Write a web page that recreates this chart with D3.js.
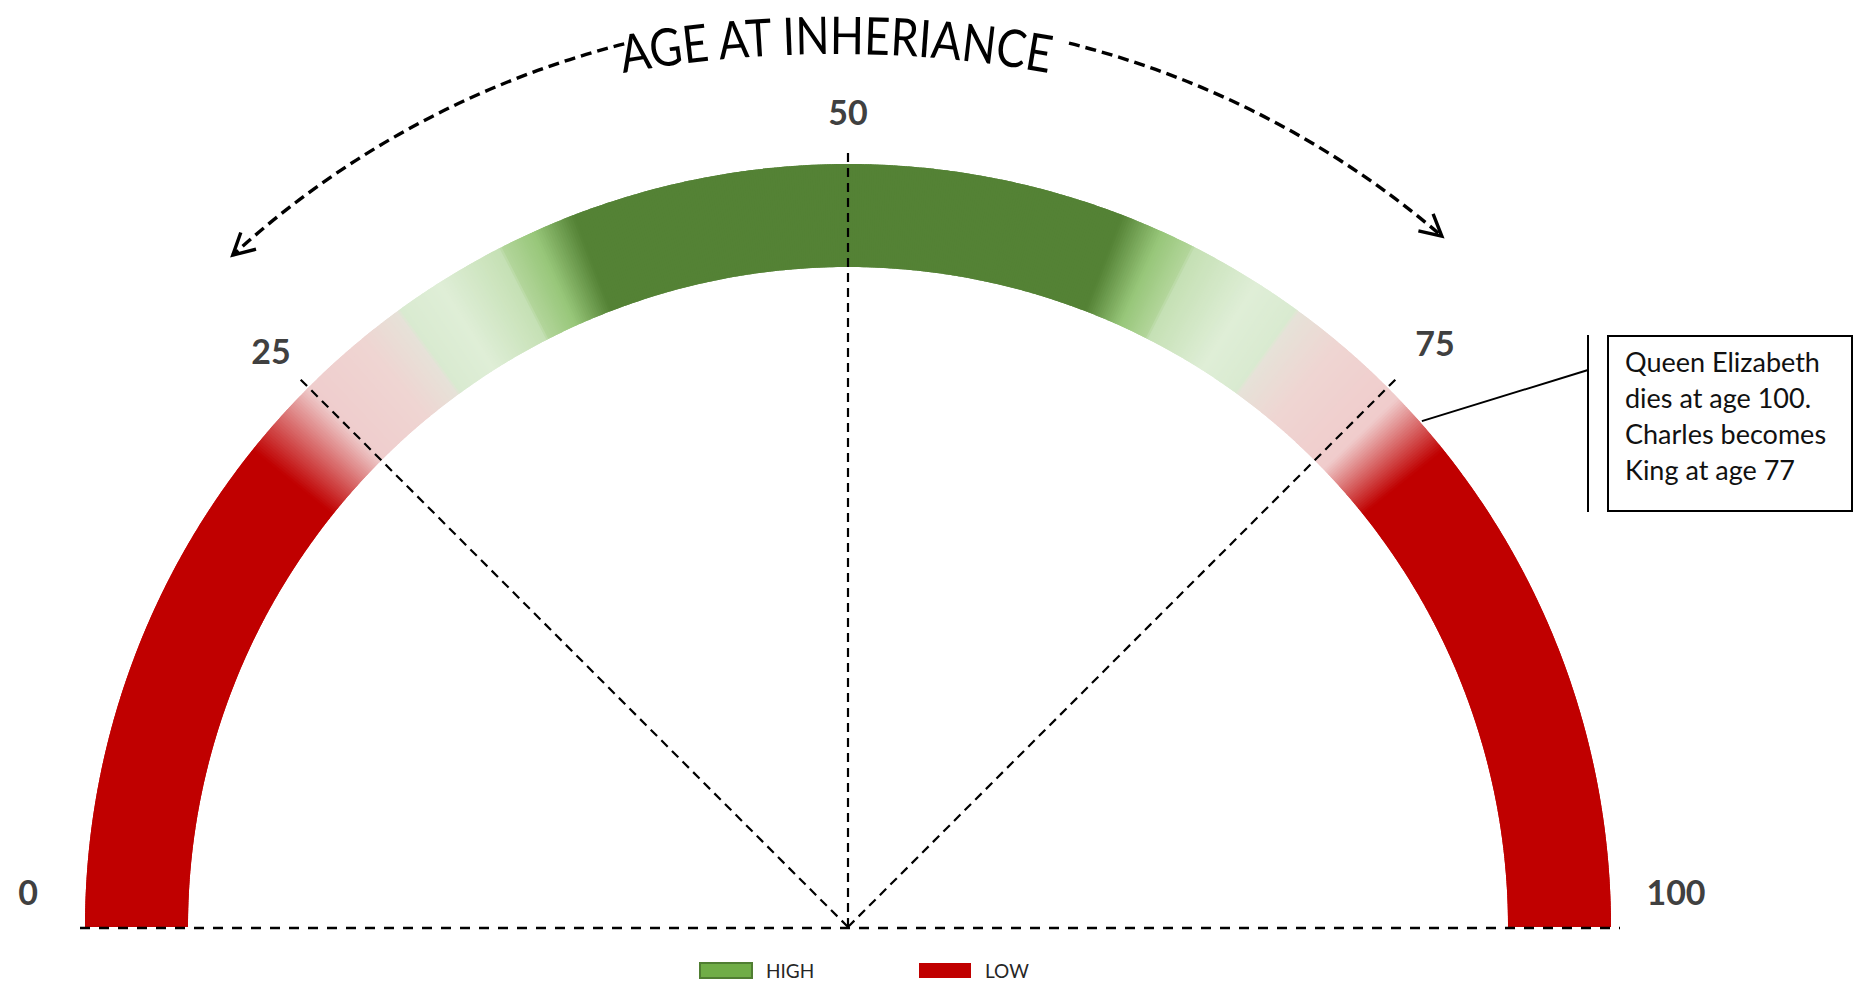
<!DOCTYPE html>
<html>
<head>
<meta charset="utf-8">
<script src="https://cdn.jsdelivr.net/npm/d3@7"></script>
<style>
  html, body { margin: 0; padding: 0; background: #ffffff; overflow: hidden; }
  svg { display: block; }
</style>
</head>
<body>
<svg id="chart" width="1855" height="984"></svg>
<script>
// ---- data ---------------------------------------------------------------
const titleText = "AGE AT INHERIANCE";
const ageTicks = [0, 25, 50, 75, 100];
const guideAges = [25, 50, 75];

// colour stops along the age scale (age -> band colour)
const bandAges = [0, 21.5, 25, 28, 29.9, 30, 32, 34.9, 35, 36.5, 38.3,
                  61.7, 63.5, 64.9, 65, 68, 70, 70.1, 72.3, 75.6, 78.5, 100];
const bandColours = ["#c00000", "#c00000", "#efcdcd", "#efd5d2", "#e6e2d8", "#d9ead0",
                     "#dfeed7", "#c5e0b4", "#b3d69b", "#97c679", "#548235",
                     "#548235", "#97c679", "#b3d69b", "#c5e0b4", "#dfeed7", "#d9ead0",
                     "#e6e2d8", "#efd5d2", "#f0cccc", "#c00000", "#c00000"];

const legendLabels = ["HIGH", "LOW"];
const legendFills = ["#70ad47", "#c00000"];
const legendStrokes = ["#507e32", "none"];

const noteLines = ["Queen Elizabeth", "dies at age 100.", "Charles becomes", "King at age 77"];
const kingAge = 77;

// ---- layout -------------------------------------------------------------
const svg = d3.select("#chart");
const cx = 848, cy = 927;
const innerR = 660, outerR = 763;
const guideR = 778;
const labelR = 816;
const arrowR = 911;

// age -> canvas angle (0 years on the left, 100 on the right, over the top)
const theta = d3.scaleLinear().domain([0, 100]).range([-Math.PI, 0]);
const colour = d3.scaleLinear().domain(bandAges).range(bandColours).interpolate(d3.interpolateRgb);
const pt = (v, r) => [cx + r * Math.cos(theta(v)), cy + r * Math.sin(theta(v))];

// ---- gauge band: thin overlapping slices coloured along the age scale -----
const step = 0.1;
const slices = d3.range(0, 100, step);
const bandArc = d3.arc().innerRadius(innerR).outerRadius(outerR);
svg.append("g").attr("class", "band")
  .attr("transform", `translate(${cx},${cy})`)
  .selectAll("path").data(slices).join("path")
  .attr("d", v => bandArc({
    startAngle: theta(v) + Math.PI / 2,
    endAngle: Math.min(Math.PI / 2, theta(v + step) + Math.PI / 2 + 0.003)
  }))
  .attr("fill", v => colour(v + step / 2));

// ---- dashed baseline ------------------------------------------------------
svg.append("line")
  .attr("x1", 80).attr("x2", 1620)
  .attr("y1", cy + 1).attr("y2", cy + 1)
  .attr("stroke", "#000").attr("stroke-width", 2.4)
  .attr("stroke-dasharray", "10,9");

// ---- dashed guide rays ----------------------------------------------------
svg.append("g").attr("class", "guides")
  .selectAll("line").data(guideAges).join("line")
  .attr("x1", cx).attr("y1", cy)
  .attr("x2", d => pt(d, guideR)[0])
  .attr("y2", d => pt(d, guideR)[1])
  .attr("stroke", "#000").attr("stroke-width", 2.2)
  .attr("stroke-dasharray", "9,6");

// ---- tick labels ----------------------------------------------------------
svg.append("g").attr("class", "ticks")
  .selectAll("text").data(ageTicks).join("text")
  .attr("x", d => pt(d, labelR)[0] + (d === 100 ? 12 : d === 75 ? 10 : d === 0 ? -4 : 0))
  .attr("y", d => pt(d, labelR)[1] + ((d === 0 || d === 100) ? -36 : d === 75 ? -8 : 0))
  .attr("text-anchor", "middle")
  .attr("dominant-baseline", "central")
  .attr("font-family", "Lato, 'Open Sans', sans-serif")
  .attr("font-weight", 700)
  .attr("font-size", 34)
  .attr("fill", "#404040")
  .text(d => d);

// ---- curved title (gentle arc of its own) ----------------------------------
const titleCx = 836, titleTop = 54, titleArcR = 1200;
const tp = d3.path();
tp.arc(titleCx, titleTop + titleArcR, titleArcR, -Math.PI / 2 - 0.25, -Math.PI / 2 + 0.25, false);
svg.append("defs").append("path").attr("id", "titlePath").attr("d", tp.toString());
svg.append("text")
  .attr("font-family", "Lato, 'Open Sans', sans-serif")
  .attr("font-size", 52)
  .attr("fill", "#000")
  .append("textPath")
  .attr("href", "#titlePath")
  .attr("startOffset", "50%")
  .attr("text-anchor", "middle")
  .attr("textLength", 428)
  .attr("lengthAdjust", "spacingAndGlyphs")
  .text(titleText);

// ---- dashed arrows either side of the title -------------------------------
const arrows = [
  { from: 42.1, to: 26.4 },
  { from: 57.8, to: 72.6 }
];
const ag = svg.append("g").attr("class", "arrows");
arrows.forEach(a => {
  const p = d3.path();
  p.arc(cx, cy, arrowR, theta(a.from), theta(a.to), a.to < a.from);
  ag.append("path").attr("d", p.toString())
    .attr("fill", "none").attr("stroke", "#000")
    .attr("stroke-width", 3.4).attr("stroke-dasharray", "11,6");
  // chevron head at the tip
  const t = theta(a.to);
  const tip = pt(a.to, arrowR);
  const sgn = a.to < a.from ? 1 : -1;
  const back = Math.atan2(sgn * Math.cos(t), -sgn * Math.sin(t));
  const len = 24, spread = 28 * Math.PI / 180;
  const e1 = [tip[0] + len * Math.cos(back + spread), tip[1] + len * Math.sin(back + spread)];
  const e2 = [tip[0] + len * Math.cos(back - spread), tip[1] + len * Math.sin(back - spread)];
  ag.append("path")
    .attr("d", d3.line()([e1, tip, e2]))
    .attr("fill", "none").attr("stroke", "#000")
    .attr("stroke-width", 3.4).attr("stroke-linejoin", "miter");
});

// ---- call-out ---------------------------------------------------------------
const note = svg.append("g").attr("class", "note");
const anchor = pt(kingAge, outerR + 2);
note.append("line")
  .attr("x1", anchor[0]).attr("y1", anchor[1])
  .attr("x2", 1588).attr("y2", 370)
  .attr("stroke", "#000").attr("stroke-width", 2);
note.append("line")
  .attr("x1", 1588).attr("x2", 1588).attr("y1", 335).attr("y2", 512)
  .attr("stroke", "#000").attr("stroke-width", 2);
note.append("rect")
  .attr("x", 1608).attr("y", 336).attr("width", 244).attr("height", 175)
  .attr("fill", "#fff").attr("stroke", "#000").attr("stroke-width", 2);
note.selectAll("text").data(noteLines).join("text")
  .attr("x", 1625)
  .attr("y", (d, i) => 372 + i * 36)
  .attr("font-family", "Lato, 'Open Sans', sans-serif")
  .attr("font-size", 27)
  .attr("fill", "#111")
  .text(d => d);

// ---- legend -----------------------------------------------------------------
const legendX = [700, 919];
const lg = svg.append("g").attr("class", "legend");
const items = lg.selectAll("g").data(legendLabels).join("g")
  .attr("transform", (d, i) => `translate(${legendX[i]},963)`);
items.append("rect")
  .attr("width", 52).attr("height", 15)
  .attr("fill", (d, i) => legendFills[i])
  .attr("stroke", (d, i) => legendStrokes[i])
  .attr("stroke-width", 2);
items.append("text")
  .attr("x", 66).attr("y", 15)
  .attr("font-family", "Lato, 'Open Sans', sans-serif")
  .attr("font-size", 19)
  .attr("fill", "#262626")
  .text(d => d);
</script>
</body>
</html>
